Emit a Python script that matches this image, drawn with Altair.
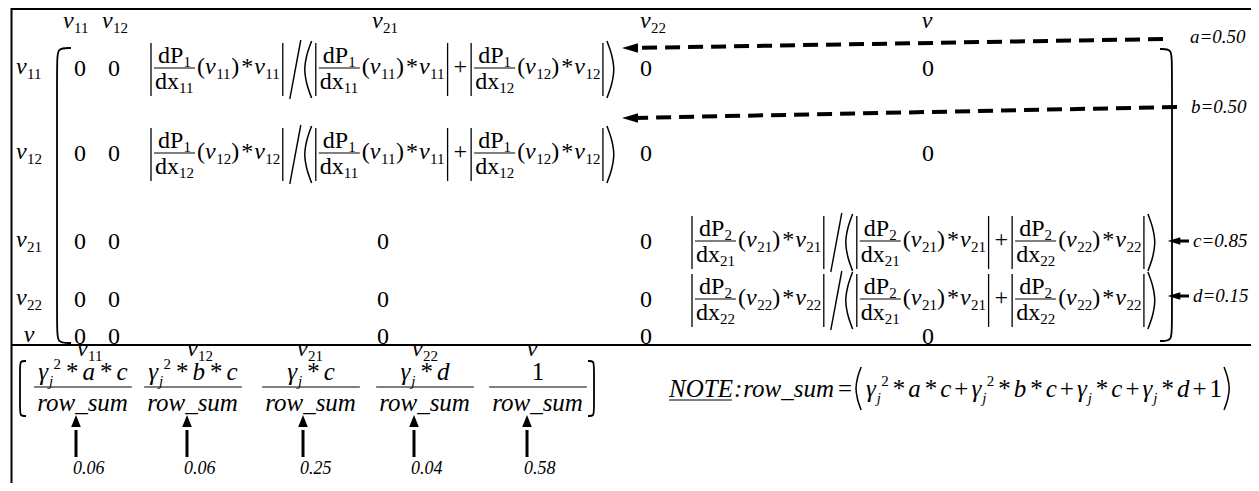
import altair as alt
import pandas as pd

# ---------------- values ----------------
COL_SUBS = ["11", "12", "21", "22", ""]          # column labels v11 v12 v21 v22 v
ROW_SUBS = ["11", "12", "21", "22", ""]          # row labels
ZERO_CELLS = {0: [0, 1, 3, 4], 1: [0, 1, 3, 4], 2: [0, 1, 2, 3],
              3: [0, 1, 2, 3], 4: [0, 1, 2, 3, 4]}
SHARE_P = ["1", "1", "2", "2"]                   # dP1 / dP2
SHARE_NUM = ["11", "12", "21", "22"]             # numerator variable of each share
SHARE_DEN = [["11", "12"], ["11", "12"], ["21", "22"], ["21", "22"]]
COEF_NAMES = ["a", "b", "c", "d"]
COEF_VALUES = ["0.50", "0.50", "0.85", "0.15"]
GAMMA_POW = [2, 2, 1, 1, 0]                      # power of gamma_j in each numerator
FACTORS = [["a", "c"], ["b", "c"], ["c"], ["d"], []]
RESULT_VALUES = ["0.06", "0.06", "0.25", "0.04", "0.58"]

# ---------------- layout (pixels of the 1259x491 page) ----------------
FONT = "Liberation Serif, Times New Roman, DejaVu Serif, serif"
F, S = 24, 15            # matrix text / subscripts
FB, SB = 25, 15          # bottom vector text / scripts
ROW_Y = [68, 153, 241, 299, 336]
COL_X = [80, 114, 383, 646, 928]
HEAD_CX = [76, 115, 385, 653, 927]
HEAD_BASE = 28
ROW_LABEL_CX = 29
EXPR_X = [150, 150, 691, 691]
COEF_X = [1190, 1191, 1193, 1193]
COEF_BASE = [43, 113, ROW_Y[2] + 6, ROW_Y[3] + 3]
DASH_FROM = [(1163, 39), (1177, 107)]
DASH_TO = [(632, 48), (632, 118)]
BFRAC_CX = [83, 193, 311, 425, 538]
BHEAD_CX = [90, 200, 310, 425, 532]
BHEAD_BASE = 356
BNUM_BASE, BBAR_Y, BDEN_BASE = 380, 387, 411
BARROW_X = [76, 187, 303, 414, 527]
BLABEL_BASE = 474
NOTE_X, NOTE_BASE = 669, 397

WR = {"d": .5, "P": .556, "x": .5, "(": .333, ")": .333, "*": .5, "+": .564,
      "=": .564, ".": .25, ":": .278}
WI = {"v": .444, "a": .5, "b": .5, "c": .444, "d": .5, "j": .278, "r": .389,
      "o": .5, "w": .667, "_": .5, "s": .389, "u": .5, "m": .722, "N": .667,
      "O": .722, "T": .556, "E": .611, ":": .333, "=": .675, ".": .25, "γ": .41}

texts, rules, cards, splines = [], [], [], []
_cid = [0]


def tw(s, it, size):
    tab = WI if it else WR
    return sum(tab.get(ch, .5) for ch in s) * size


def put(x, y, s, size, it=False, draw=True):
    if draw and s:
        texts.append({"x": x, "y": y, "t": s, "size": size, "it": it})
    return x + tw(s, it, size)


def rule(x, y, x2, y2, w=1.0):
    rules.append({"x": x, "y": y, "x2": x2, "y2": y2, "w": w})


def path(store, pts):
    _cid[0] += 1
    for i, (px, py) in enumerate(pts):
        store.append({"c": _cid[0], "o": i, "x": px, "y": py})


def paren(x, top, bot, left):
    h = bot - top
    b = 0.12 * h
    if left:
        xs = [x + b, x + b * 0.3, x, x + b * 0.3, x + b]
    else:
        xs = [x, x + b * 0.7, x + b, x + b * 0.7, x]
    ys = [top, top + h / 4, (top + bot) / 2, bot - h / 4, bot]
    path(cards, list(zip(xs, ys)))


def vsym(x, base, sub, f, s, draw=True):
    x = put(x, base, "v", f, True, draw)
    if sub:
        x = put(x + 0.5, base + 0.22 * f, sub, s, False, draw)
    return x


def bar(x, yc):
    rule(x, yc - 25, x, yc + 28, 1.3)


def dfrac(x, yc, p, sub):
    nw = tw("dP", False, F) + tw(p, False, S)
    dw = tw("dx", False, F) + tw(sub, False, S)
    w = max(nw, dw) + 2
    nx = put(x + (w - nw) / 2, yc - 5, "dP", F)
    put(nx, yc - 1, p, S)
    dx = put(x + (w - dw) / 2, yc + 21, "dx", F)
    put(dx, yc + 25, sub, S)
    rule(x, yc, x + w, yc, 1.0)
    return x + w


def term(x, yc, sub):
    b = yc + 6
    x = put(x, b, "(", F)
    x = vsym(x, b, sub, F, S)
    x = put(x, b, ")", F)
    x = put(x + 2, b, "*", F) + 1
    return vsym(x, b, sub, F, S)


def absgroup(x, yc, p, sub):
    bar(x + 1, yc)
    x = dfrac(x + 4, yc, p, sub) + 2
    x = term(x, yc, sub) + 2
    bar(x + 0.5, yc)
    return x + 3.5


def expr(x, yc, p, num, dens):
    x = absgroup(x, yc, p, num)
    rule(x + 15, yc - 28, x + 4, yc + 31, 1.4)
    x += 19
    paren(x, yc - 27, yc + 30, True)
    x += 10
    x = absgroup(x, yc, p, dens[0])
    x = put(x + 3, yc + 6, "+", F) + 3
    x = absgroup(x, yc, p, dens[1])
    paren(x + 1, yc - 27, yc + 30, False)
    return x + 9


def gamma_pow(x, base, p, draw=True):
    x = put(x, base, "γ", FB, True, draw)
    e1 = put(x + 0.5, base + 0.22 * FB, "j", SB, True, draw)
    if p == 2:
        e2 = put(x + 5, base - 0.45 * FB, "2", SB, False, draw)
        return max(e1, e2)
    return e1


def product(x, base, p, facs, sp, draw=True):
    if p == 0:
        return put(x, base, "1", FB, False, draw)
    x = gamma_pow(x, base, p, draw)
    for f in facs:
        x = put(x + sp, base, "*", FB, False, draw) + sp - 1
        x = put(x, base, f, FB, True, draw)
    return x


# ---- matrix headers, row labels, zeros
for k, sub in enumerate(COL_SUBS):
    w = vsym(0, 0, sub, F, S, False)
    vsym(HEAD_CX[k] - w / 2, HEAD_BASE, sub, F, S)
for r, sub in enumerate(ROW_SUBS):
    w = vsym(0, 0, sub, F, S, False)
    vsym(ROW_LABEL_CX - w / 2, ROW_Y[r] + 6, sub, F, S)
for r, cols in ZERO_CELLS.items():
    for c in cols:
        put(COL_X[c] - tw("0", False, F) / 2, ROW_Y[r] + 8, "0", F)

# ---- share expressions
for k in range(4):
    expr(EXPR_X[k], ROW_Y[k], SHARE_P[k], SHARE_NUM[k], SHARE_DEN[k])

# ---- big matrix brackets
path(splines, [(71, 48), (57, 48), (57, 61), (57, 330), (57, 343), (71, 343)])
path(splines, [(1160, 49), (1172, 49), (1172, 62), (1172, 328), (1172, 341), (1160, 341)])

# ---- coefficient labels
for k in range(4):
    put(COEF_X[k], COEF_BASE[k], COEF_NAMES[k] + "=" + COEF_VALUES[k], 19, True)
dashes = [{"x": a[0], "y": a[1], "x2": b[0], "y2": b[1]} for a, b in zip(DASH_FROM, DASH_TO)]
heads_big = [{"x": b[0] - 2, "y": b[1]} for b in DASH_TO]
heads_small = [{"x": 1174, "y": ROW_Y[2]}, {"x": 1174, "y": ROW_Y[3] - 3}]
for h in heads_small:
    rule(1176, h["y"], 1189, h["y"], 3)

# ---- borders
rule(11, 9, 1251, 9, 2)
rule(11.5, 8, 11.5, 483, 2)
rule(11, 345, 1251, 345, 2)

# ---- bottom vector
for k, sub in enumerate(COL_SUBS):
    w = vsym(0, 0, sub, F, S, False)
    vsym(BHEAD_CX[k] - w / 2, BHEAD_BASE, sub, F, S)
for k in range(5):
    cx = BFRAC_CX[k]
    nw = product(0, 0, GAMMA_POW[k], FACTORS[k], 5, False)
    dw = tw("row_sum", True, FB)
    w = max(nw, dw) + 6
    product(cx - nw / 2, BNUM_BASE, GAMMA_POW[k], FACTORS[k], 5)
    put(cx - dw / 2, BDEN_BASE, "row_sum", FB, True)
    rule(cx - w / 2, BBAR_Y, cx + w / 2, BBAR_Y, 1.1)
path(splines, [(26, 361), (20, 361), (20, 367), (20, 410), (20, 416), (26, 416)])
path(splines, [(588, 361), (594, 361), (594, 367), (594, 410), (594, 416), (588, 416)])
heads_up = [{"x": ax, "y": 421} for ax in BARROW_X]
for k, ax in enumerate(BARROW_X):
    rule(ax, 430, ax, 457, 3)
    put(ax - 3, BLABEL_BASE, RESULT_VALUES[k], 18, True)

# ---- NOTE formula
x = NOTE_X
b = NOTE_BASE
x1 = put(x, b, "NOTE", FB, True)
rule(x, b + 3, x1 - 1, b + 3, 1.2)
x = put(x1 + 1, b, ":", FB, True) + 1
x = put(x, b, "row_sum", FB, True)
x = put(x + 3, b, "=", FB) + 3
paren(x + 1, b - 30, b + 13, True)
x += 11
for k in range(5):
    if k:
        x = put(x + 3, b, "+", FB) + 3
    x = product(x, b, GAMMA_POW[k], FACTORS[k], 4)
paren(x + 2, b - 30, b + 13, False)

# ---------------- chart ----------------
XS = alt.Scale(domain=[8, 1251], nice=False, zero=False)
YS = alt.Scale(domain=[483, 8], nice=False, zero=False)
X = alt.X("x:Q", scale=XS, axis=None)
Y = alt.Y("y:Q", scale=YS, axis=None)

t_df = pd.DataFrame(texts)
layers = []
for it in (False, True):
    sub = t_df[t_df["it"] == it][["x", "y", "t", "size"]]
    mk = dict(align="left", baseline="alphabetic", font=FONT, color="black")
    if it:
        mk["fontStyle"] = "italic"
    layers.append(alt.Chart(sub).mark_text(**mk).encode(
        x=X, y=Y, text="t:N", size=alt.Size("size:Q", scale=None)))

layers.append(alt.Chart(pd.DataFrame(rules)).mark_rule(color="black").encode(
    x=X, y=Y, x2="x2:Q", y2="y2:Q", strokeWidth=alt.StrokeWidth("w:Q", scale=None)))
layers.append(alt.Chart(pd.DataFrame(dashes)).mark_rule(
    color="black", strokeWidth=4, strokeDash=[15, 8]).encode(x=X, y=Y, x2="x2:Q", y2="y2:Q"))
layers.append(alt.Chart(pd.DataFrame(cards)).mark_line(
    interpolate="cardinal", color="black", strokeWidth=1.5).encode(
    x=X, y=Y, detail="c:N", order="o:Q"))
layers.append(alt.Chart(pd.DataFrame(splines)).mark_line(
    interpolate="basis", color="black", strokeWidth=1.8).encode(
    x=X, y=Y, detail="c:N", order="o:Q"))
layers.append(alt.Chart(pd.DataFrame(heads_big)).mark_point(
    shape="M-1,0L1,-0.6L1,0.6Z", filled=True, color="black", opacity=1, size=256).encode(x=X, y=Y))
layers.append(alt.Chart(pd.DataFrame(heads_small)).mark_point(
    shape="M-1,0L1,-0.6L1,0.6Z", filled=True, color="black", opacity=1, size=160).encode(x=X, y=Y))
layers.append(alt.Chart(pd.DataFrame(heads_up)).mark_point(
    shape="M0,-1L0.8,1L-0.8,1Z", filled=True, color="black", opacity=1, size=144).encode(x=X, y=Y))

chart = alt.layer(*layers).properties(
    width=1243, height=475, autosize="none", padding=0, background="white"
).configure_view(strokeWidth=0)

chart.save("out.html", embed_options={"renderer": "svg", "actions": False})
